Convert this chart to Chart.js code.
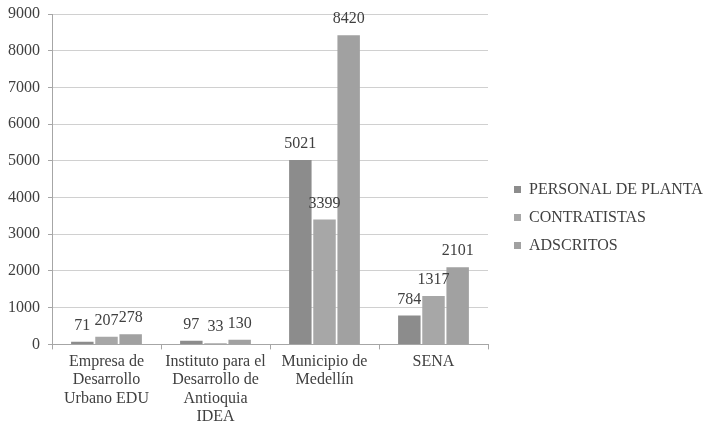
<!DOCTYPE html>
<html>
<head>
<meta charset="utf-8">
<script src="https://cdn.jsdelivr.net/npm/chart.js@4/dist/chart.umd.min.js"></script>
<style>
  html, body { margin: 0; padding: 0; background: #fff; }
  #wrap { width: 705px; height: 429px; }
</style>
</head>
<body>
<div id="wrap"><canvas id="chart"></canvas></div>
<script>
// datos
const entidades = [
  ['Empresa de', 'Desarrollo', 'Urbano EDU'],
  ['Instituto para el', 'Desarrollo de', 'Antioquia', 'IDEA'],
  ['Municipio de', 'Medellín'],
  'SENA'
];
const personalPlanta = [71, 97, 5021, 784];
const contratistas = [207, 33, 3399, 1317];
const adscritos = [278, 130, 8420, 2101];
const ticksY = [0, 1000, 2000, 3000, 4000, 5000, 6000, 7000, 8000, 9000];

const serif = '"Liberation Serif", "Times New Roman", serif';
const grisTexto = '#404040';

// etiquetas sopra le barre (niente plugin esterno)
const etichette = {
  id: 'etichette',
  afterDatasetsDraw(chart) {
    const c = chart.ctx;
    c.save();
    c.font = '16px ' + serif;
    c.fillStyle = grisTexto;
    c.textAlign = 'center';
    c.textBaseline = 'middle';
    chart.data.datasets.forEach((ds, i) => {
      chart.getDatasetMeta(i).data.forEach((bar, j) => {
        c.fillText(String(ds.data[j]), bar.x, bar.y - 16);
      });
    });
    c.restore();
  }
};

// legenda a larghezza fissa, poi spostata come nell'originale
const spostaLegenda = {
  id: 'spostaLegenda',
  beforeInit(chart) {
    const fit = chart.legend.fit;
    chart.legend.fit = function () {
      fit.bind(chart.legend)();
      this.width = 217;
    };
  },
  afterLayout(chart) {
    const l = chart.legend;
    l.left = 502;
    l.right = chart.width;
    l.top = 3;
    l.bottom = chart.height + 3;
    l.height = chart.height;
  }
};

new Chart(document.getElementById('chart'), {
  type: 'bar',
  data: {
    labels: entidades,
    datasets: [
      { label: 'PERSONAL DE PLANTA', data: personalPlanta, backgroundColor: '#8c8c8c' },
      { label: 'CONTRATISTAS', data: contratistas, backgroundColor: '#a7a7a7' },
      { label: 'ADSCRITOS', data: adscritos, backgroundColor: '#a1a1a1' }
    ]
  },
  options: {
    responsive: true,
    maintainAspectRatio: false,
    animation: false,
    categoryPercentage: 0.665,
    barPercentage: 0.93,
    layout: { padding: 0 },
    plugins: {
      tooltip: { enabled: false },
      legend: {
        position: 'right',
        labels: {
          boxWidth: 7,
          boxHeight: 7,
          padding: 12,
          color: grisTexto,
          font: { family: serif, size: 16 }
        }
      }
    },
    scales: {
      x: {
        grid: { display: true, drawOnChartArea: false, color: '#a6a6a6', tickLength: 5, offset: true },
        border: { color: '#a6a6a6' },
        ticks: {
          color: grisTexto,
          maxRotation: 0,
          autoSkip: false,
          padding: 3,
          font: { family: serif, size: 16, lineHeight: 1.15 }
        }
      },
      y: {
        min: 0,
        max: 9000,
        afterBuildTicks(axis) { axis.ticks = ticksY.map(v => ({ value: v })); },
        afterFit(axis) { axis.paddingTop = 14; },
        grid: { color: '#d0d0d0', tickLength: 4, tickColor: '#a6a6a6' },
        border: { color: '#a6a6a6' },
        ticks: {
          color: grisTexto,
          padding: 8,
          font: { family: serif, size: 16 },
          callback: v => String(v)
        }
      }
    }
  },
  plugins: [etichette, spostaLegenda]
});
</script>
</body>
</html>
